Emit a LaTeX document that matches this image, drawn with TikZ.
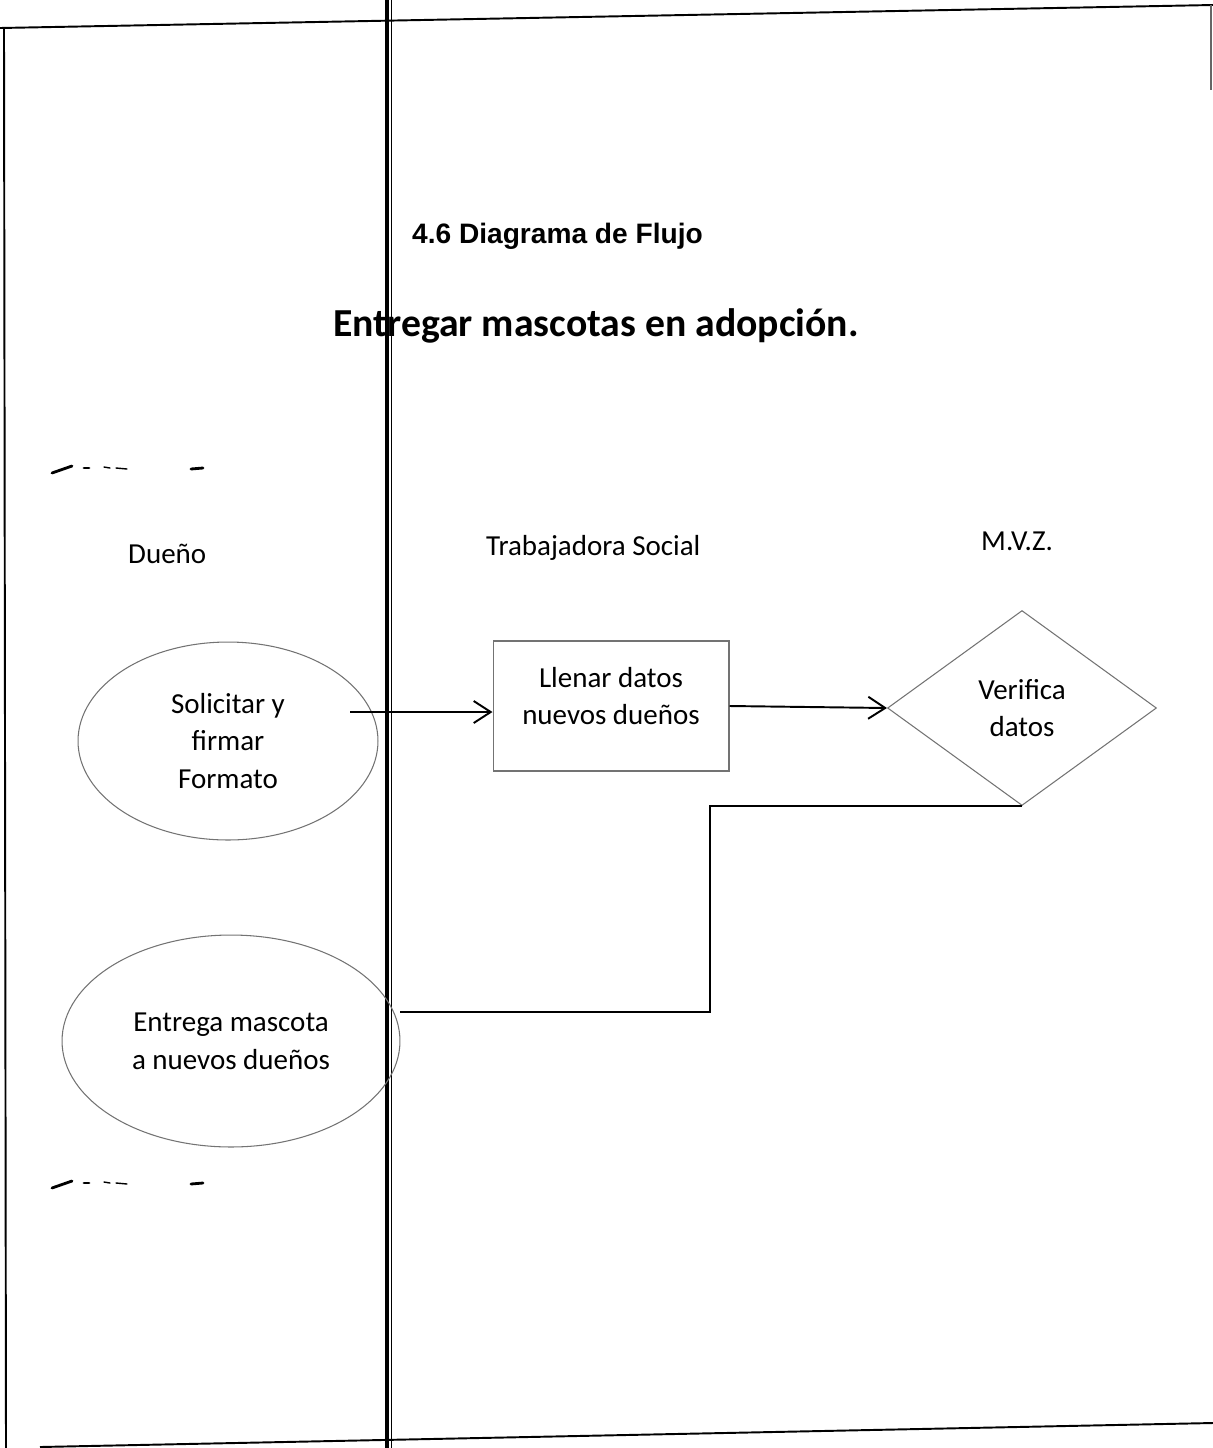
\documentclass[tikz,border=0pt]{standalone}
\usepackage{fontspec}
\setmainfont{Carlito}
\newfontfamily\arialfont{Liberation Sans}
\usetikzlibrary{calc}
\usetikzlibrary {arrows.meta}
\usetikzlibrary{shapes.geometric}
\newcommand{\formacolor}{black!55}
\newcommand{\lineawidth}{1.1pt}
\newcommand{\textosize}{\fontsize{16.5}{21.5}\selectfont}
\tikzset{
	forma/.style={draw=\formacolor, line width=0.6pt, align=center, font=\textosize},
	flecha/.style={line width=\lineawidth, -{Straight Barb[length=3.4mm, width=4.4mm]}},
	enlace/.style={line width=\lineawidth},
	marco/.style={line width=1.1pt},
	mancha/.style={line width=1.6pt, line cap=round},
	carril/.style={anchor=base west, font=\textosize}
}
\newcommand{\manchas}[1]{
	\draw[mancha] (52, #1+5) -- (72, #1-2);
	\draw[mancha] (84, #1) -- (89, #1);
	\draw[mancha, line width=0.8pt] (104, #1-1) -- (110, #1) (116, #1) -- (127, #1+1);
	\draw[mancha] (191, #1+1) -- (203, #1);
}

\begin{document}
\begin{tikzpicture}[x=0.02cm, y=-0.02cm]
	\useasboundingbox (0, 0) rectangle (1213, 1448);

	% hoja
	\draw[marco] (0, 28) -- (1213, 5);
	\draw[marco] (4, 28) -- (6, 1448);
	\draw[marco] (40, 1447) -- (1213, 1423);
	\draw[line width=0.6pt, black!60] (1211, 5) -- (1211, 90);
	\draw[line width=2.6pt] (387, 0) -- (387, 1448);
	\draw[line width=0.9pt] (391.5, 0) -- (391.5, 1448);

	\manchas{468}
	\manchas{1183}

	\node[anchor=base west, font=\arialfont\bfseries\fontsize{16}{20}\selectfont] (seccion) at (406, 243) {4.6 Diagrama de Flujo};
	\node[anchor=base, font=\bfseries\fontsize{22.6}{27}\selectfont] (titulo) at (596, 336) {Entregar mascotas en adopción.};

	\node[carril] (dueno) at (122, 563) {Dueño};
	\node[carril] (trabajadora) at (480, 555) {Trabajadora Social};
	\node[carril] (mvz) at (975, 550) {M.V.Z.};

	\node[forma, ellipse, minimum width=6cm, minimum height=3.96cm] (solicitar) at (228, 741) {Solicitar y\\firmar\\Formato};
	\node[forma, rectangle, minimum width=4.72cm, minimum height=2.6cm, text depth=0.4cm] (llenar) at (611, 706) {Llenar datos\\nuevos dueños};
	\node[forma, diamond, minimum width=5.38cm, minimum height=3.9cm] (verifica) at (1022, 708) {Verifica\\datos};
	\node[forma, ellipse, minimum width=6.76cm, minimum height=4.24cm] (entrega) at (231, 1041) {Entrega mascota\\a nuevos dueños};

	\coordinate (salida) at (350, 712);
	\coordinate (codo) at (710, 1012);

	\draw[flecha] (salida) -- (llenar.west |- salida);
	\draw[flecha] (llenar.east) -- (verifica.west);
	\draw[enlace] (verifica.south) -| (codo) -- (entrega.east |- codo);

\end{tikzpicture}
\end{document}
